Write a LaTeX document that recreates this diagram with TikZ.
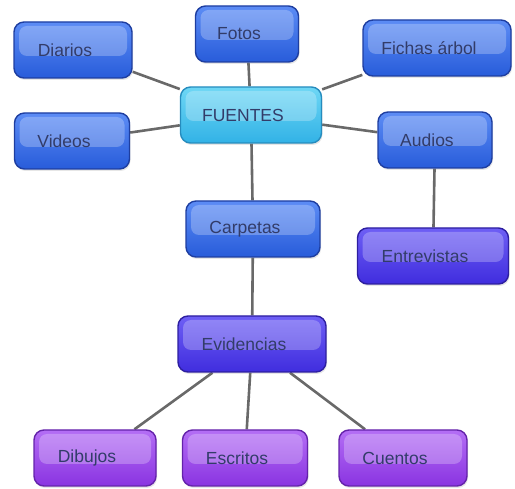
\documentclass[tikz,border=0pt]{standalone}
\usepackage{fontspec}
\setmainfont{Liberation Sans}
\usetikzlibrary{positioning,shadows,backgrounds}

\definecolor{blueTop}{RGB}{92,140,245}
\definecolor{blueBot}{RGB}{40,92,218}
\definecolor{blueLine}{RGB}{30,62,160}
\definecolor{cyanTop}{RGB}{110,215,245}
\definecolor{cyanBot}{RGB}{50,178,230}
\definecolor{cyanLine}{RGB}{38,140,190}
\definecolor{indigoTop}{RGB}{110,95,245}
\definecolor{indigoBot}{RGB}{64,45,222}
\definecolor{indigoLine}{RGB}{45,30,160}
\definecolor{purpleTop}{RGB}{180,110,245}
\definecolor{purpleBot}{RGB}{138,52,225}
\definecolor{purpleLine}{RGB}{100,35,170}
\definecolor{linkGray}{RGB}{105,105,105}
\definecolor{labelInk}{RGB}{50,60,105}

\begin{document}
\begin{tikzpicture}[x=1pt, y=-1pt,
	concept/.style = {shape=rectangle, rounded corners=10pt,
		line width=1.4pt, minimum height=56pt, text=labelInk,
		font=\fontsize{17.5}{20}\selectfont,
		execute at end node={\hspace*{16pt}},
		drop shadow={opacity=0.2, shadow xshift=1pt, shadow yshift=-2pt},
		path picture={\fill[white, opacity=0.25, rounded corners=8pt]
			([xshift=5pt,yshift=-4pt]path picture bounding box.north west)
			rectangle ([xshift=-5pt,yshift=-6pt]path picture bounding box.east);}},
	bluebox/.style = {concept, draw=blueLine, top color=blueTop, bottom color=blueBot},
	cyanbox/.style = {concept, draw=cyanLine, top color=cyanTop, bottom color=cyanBot},
	indigobox/.style = {concept, draw=indigoLine, top color=indigoTop, bottom color=indigoBot},
	purplebox/.style = {concept, draw=purpleLine, top color=purpleTop, bottom color=purpleBot},
	link/.style = {draw=linkGray, line width=2.6pt}]
	\useasboundingbox (0,0) rectangle (515,489);

	% centre
	\node[cyanbox, minimum width=141pt] (fuentes) at (251,115) {FUENTES};

	% fuentes
	\node[bluebox, minimum width=118pt] (diarios) at (73,50) {Diarios};
	\node[bluebox, minimum width=103pt] (fotos) at (247,34) {Fotos};
	\node[bluebox, minimum width=148pt] (fichas) at (437,48) {Fichas árbol};
	\node[bluebox, minimum width=115pt] (videos) at (72,141) {Videos};
	\node[bluebox, minimum width=114pt] (audios) at (435,140) {Audios};
	\node[indigobox, minimum width=151pt] (entrevistas) at (433,256) {Entrevistas};

	% carpetas
	\node[bluebox, minimum width=134pt] (carpetas) at (253,229) {Carpetas};
	\node[indigobox, minimum width=148pt] (evidencias) at (252,344) {Evidencias};
	\node[purplebox, minimum width=122pt] (dibujos) at (95,458) {Dibujos};
	\node[purplebox, minimum width=125pt] (escritos) at (245,458) {Escritos};
	\node[purplebox, minimum width=128pt] (cuentos) at (403,458) {Cuentos};

	\begin{scope}[on background layer]
		\foreach \n in {diarios,fotos,fichas,videos,audios,carpetas}
			\draw[link] (fuentes) -- (\n);
		\draw[link] (audios) -- (entrevistas);
		\draw[link] (carpetas) -- (evidencias);
		\foreach \n in {dibujos,escritos,cuentos}
			\draw[link] (evidencias) -- (\n);
	\end{scope}
\end{tikzpicture}
\end{document}
